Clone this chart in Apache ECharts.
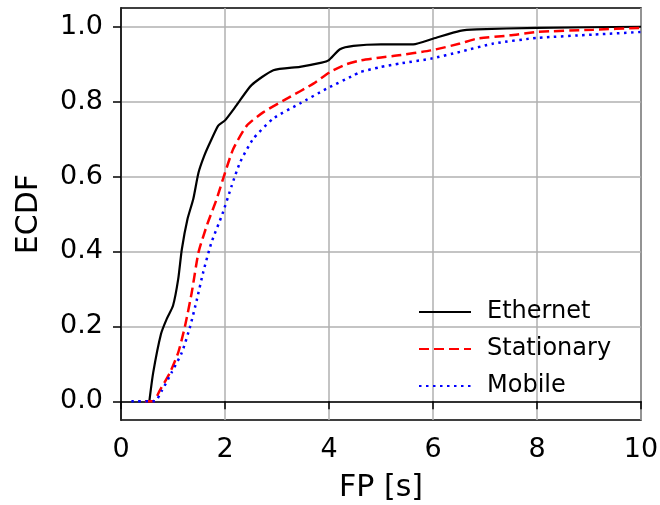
<!DOCTYPE html>
<html>
<head>
<meta charset="utf-8">
<script src="https://cdn.jsdelivr.net/npm/echarts@6/dist/echarts.min.js"></script>
<style>
  html, body { margin: 0; padding: 0; background: #fff; }
  #ecdf-graph { width: 660px; height: 505px; }
</style>
</head>
<body>
<div id="ecdf-graph"></div>
<script>
// ECDF curves: x in seconds, y in [0, 1]
var ethernetX = [0.545, 0.62, 0.77, 0.88, 1.0, 1.1, 1.17, 1.28, 1.39, 1.49, 1.6, 1.71, 1.87, 2.0, 2.22, 2.51, 2.93, 3.44, 3.86, 3.99, 4.21, 4.47, 5.0, 5.62, 6.0, 6.52, 6.84, 8.0, 10];
var ethernetY = [0, 0.077, 0.18, 0.22, 0.255, 0.326, 0.406, 0.487, 0.54, 0.61, 0.655, 0.69, 0.736, 0.75, 0.79, 0.844, 0.884, 0.893, 0.904, 0.91, 0.94, 0.949, 0.953, 0.953, 0.968, 0.989, 0.993, 0.997, 1.0];

var stationaryX = [0.46, 0.62, 0.75, 0.94, 1.1, 1.23, 1.36, 1.49, 1.65, 1.84, 2.0, 2.16, 2.42, 2.74, 3.19, 3.7, 4.02, 4.34, 4.6, 5.0, 5.3, 5.97, 6.52, 6.84, 7.48, 8.0, 9.08, 10];
var stationaryY = [0, 0, 0.03, 0.076, 0.13, 0.2, 0.29, 0.397, 0.469, 0.54, 0.61, 0.674, 0.736, 0.772, 0.808, 0.848, 0.879, 0.9, 0.91, 0.918, 0.923, 0.937, 0.955, 0.968, 0.977, 0.986, 0.992, 0.997];

var mobileX = [0.2, 0.65, 0.78, 0.97, 1.17, 1.33, 1.46, 1.58, 1.74, 1.95, 2.13, 2.29, 2.54, 2.93, 3.44, 3.96, 4.47, 4.6, 4.98, 5.37, 5.97, 6.52, 7.16, 8.0, 9.08, 10];
var mobileY = [0, 0, 0.027, 0.076, 0.13, 0.2, 0.272, 0.344, 0.424, 0.5, 0.576, 0.638, 0.7, 0.755, 0.795, 0.835, 0.87, 0.879, 0.892, 0.902, 0.915, 0.933, 0.955, 0.97, 0.979, 0.986];

var yTicks = [0, 0.2, 0.4, 0.6, 0.8, 1.0];

function pairs(xs, ys) {
  return xs.map(function (x, i) { return [x, ys[i]]; });
}

var ecdf_chartDom = document.getElementById('ecdf-graph');
var ecdf_myChart = echarts.init(ecdf_chartDom);
var ecdf_option;

var font = 'DejaVu Sans';

ecdf_option = {
  backgroundColor: '#fff',
  animation: false,
  grid: {
    left: 121,
    right: 19,
    top: 8,
    bottom: 85,
    outerBoundsMode: 'none',
    containLabel: false,
    show: true,
    borderColor: '#000',
    borderWidth: 1.5,
    backgroundColor: 'transparent'
  },
  legend: {
    orient: 'vertical',
    left: 413,
    top: 295,
    itemWidth: 52,
    itemHeight: 14,
    itemGap: 13,
    itemStyle: { opacity: 0 },
    textStyle: {
      fontFamily: font,
      fontSize: 24,
      color: '#000',
      padding: [0, 0, 0, 11]
    },
    data: ['Ethernet', 'Stationary', 'Mobile']
  },
  xAxis: {
    type: 'value',
    min: 0,
    max: 10,
    interval: 2,
    name: 'FP [s]',
    nameLocation: 'middle',
    nameGap: 53,
    nameTextStyle: { fontFamily: font, fontSize: 30, color: '#000' },
    axisLine: { show: true, lineStyle: { color: '#000', width: 1.5 } },
    axisTick: { show: true, length: 8, lineStyle: { color: '#000', width: 1.5 } },
    axisLabel: { fontFamily: font, fontSize: 27, color: '#000', margin: 16 },
    splitLine: { show: true, lineStyle: { color: '#b0b0b0', width: 1.5 } }
  },
  yAxis: {
    type: 'value',
    min: -0.05,
    max: 1.05,
    name: 'ECDF',
    nameLocation: 'middle',
    nameGap: 77,
    nameTextStyle: { fontFamily: font, fontSize: 30, color: '#000' },
    axisLine: { show: true, lineStyle: { color: '#000', width: 1.5 } },
    axisTick: { show: true, length: 8, customValues: yTicks, lineStyle: { color: '#000', width: 1.5 } },
    axisLabel: {
      fontFamily: font,
      fontSize: 27,
      color: '#000',
      margin: 18,
      customValues: yTicks,
      formatter: function (v) { return v.toFixed(1); }
    },
    splitLine: { show: true, lineStyle: { color: '#b0b0b0', width: 1.5 } }
  },
  series: [
    {
      name: 'Ethernet',
      type: 'line',
      showSymbol: false,
      symbol: 'none',
      smooth: 0.2,
      lineStyle: { color: '#000', width: 2.2, type: 'solid' },
      itemStyle: { color: '#000' },
      data: pairs(ethernetX, ethernetY)
    },
    {
      name: 'Stationary',
      type: 'line',
      showSymbol: false,
      symbol: 'none',
      smooth: 0.2,
      lineStyle: { color: '#ff0000', width: 2.5, type: [10, 5] },
      itemStyle: { color: '#ff0000' },
      data: pairs(stationaryX, stationaryY)
    },
    {
      name: 'Mobile',
      type: 'line',
      showSymbol: false,
      symbol: 'none',
      smooth: 0.2,
      lineStyle: { color: '#0000ff', width: 2.5, type: [2.5, 4.5] },
      itemStyle: { color: '#0000ff' },
      data: pairs(mobileX, mobileY)
    }
  ]
};

ecdf_option && ecdf_myChart.setOption(ecdf_option);

window.addEventListener('resize', function () {
  ecdf_myChart.resize();
});
</script>
</body>
</html>
